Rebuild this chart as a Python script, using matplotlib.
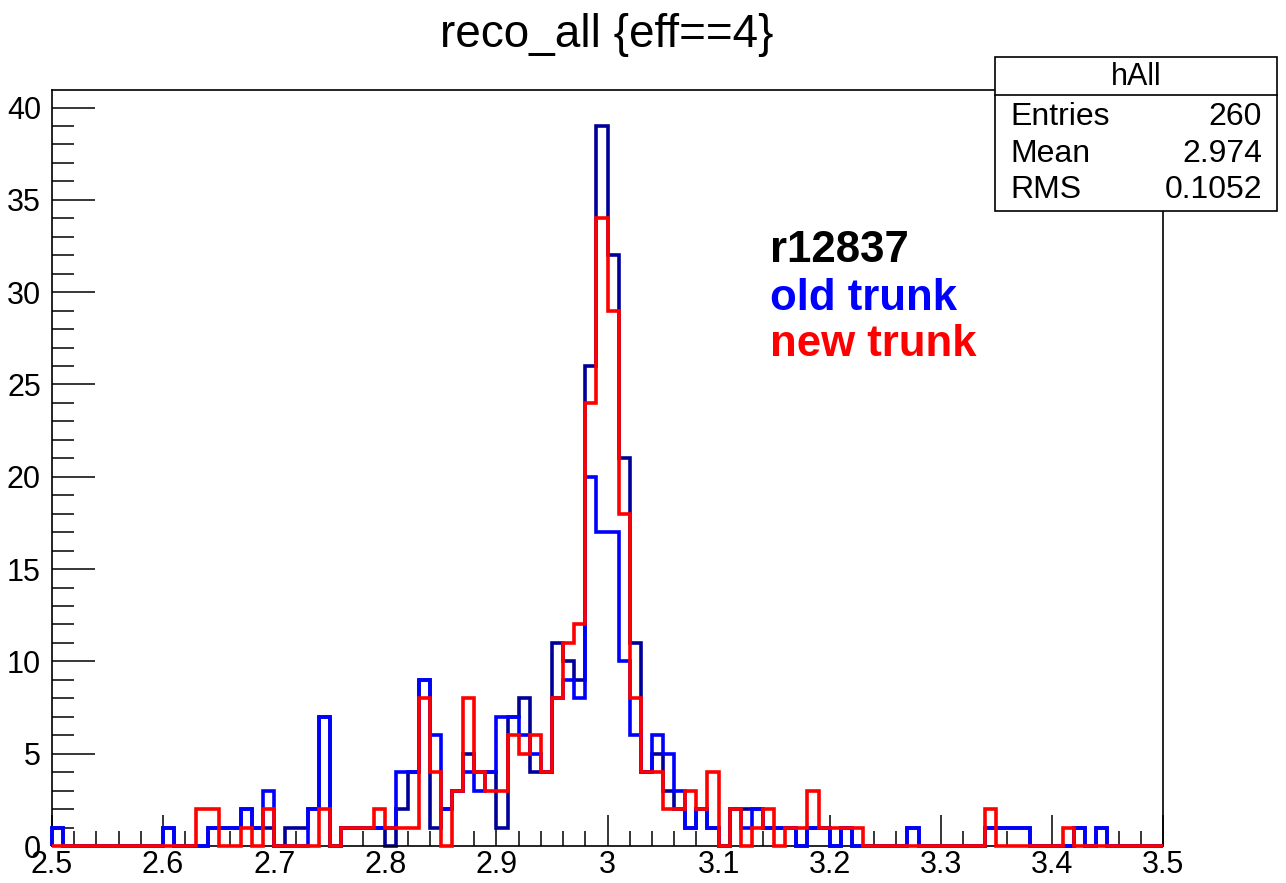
import numpy as np
import matplotlib
matplotlib.use("Agg")
import matplotlib.pyplot as plt
from matplotlib.patches import Rectangle
from matplotlib.ticker import MultipleLocator

plt.rcParams['font.family'] = ['Liberation Sans', 'DejaVu Sans']

# 100 bins from 2.5 to 3.5
edges = np.linspace(2.5, 3.5, 101)

old_trunk = [1, 0, 0, 0, 0, 0, 0, 0, 0, 0,
             1, 0, 0, 0, 1, 1, 1, 2, 1, 3,
             0, 0, 0, 2, 7, 0, 1, 1, 1, 1,
             1, 4, 4, 9, 6, 2, 3, 4, 3, 4,
             7, 7, 6, 5, 4, 8, 9, 8, 20, 17,
             17, 10, 6, 4, 6, 5, 3, 1, 2, 1,
             0, 2, 1, 2, 1, 1, 1, 0, 1, 1,
             0, 1, 0, 0, 0, 0, 0, 1, 0, 0,
             0, 0, 0, 0, 1, 1, 1, 1, 0, 0,
             0, 0, 1, 0, 1, 0, 0, 0, 0, 0]

new_trunk = [0, 0, 0, 0, 0, 0, 0, 0, 0, 0,
             0, 0, 0, 2, 2, 0, 0, 1, 0, 2,
             0, 0, 0, 0, 2, 0, 1, 1, 1, 2,
             1, 1, 1, 8, 4, 0, 3, 8, 4, 3,
             3, 6, 5, 6, 4, 8, 11, 12, 24, 34,
             29, 18, 8, 4, 4, 2, 2, 3, 2, 4,
             0, 2, 0, 1, 2, 0, 1, 1, 3, 1,
             1, 1, 1, 0, 0, 0, 0, 0, 0, 0,
             0, 0, 0, 0, 2, 0, 0, 0, 0, 0,
             0, 1, 0, 0, 0, 0, 0, 0, 0, 0]

h_all = [1, 0, 0, 0, 0, 0, 0, 0, 0, 0,
         1, 0, 0, 0, 1, 1, 1, 2, 1, 1,
         0, 1, 1, 2, 7, 0, 1, 1, 1, 1,
         0, 2, 4, 9, 1, 2, 3, 5, 4, 4,
         1, 7, 8, 4, 4, 11, 10, 9, 26, 39,
         32, 21, 11, 4, 5, 3, 2, 1, 2, 1,
         0, 2, 2, 2, 1, 1, 1, 0, 1, 1,
         0, 1, 0, 0, 0, 0, 0, 1, 0, 0,
         0, 0, 0, 0, 1, 1, 1, 1, 0, 0,
         0, 0, 1, 0, 1, 0, 0, 0, 0, 0]

stats_rows = [("Entries", "260"), ("Mean", "2.974"), ("RMS", "0.1052")]

W, H = 1286, 883
fig = plt.figure(figsize=(W / 100, H / 100), dpi=100)
ax = fig.add_axes([52 / W, 37 / H, 1111 / W, 756 / H])

lw = 2.6
ax.stairs(h_all, edges, color='#000099', lw=lw, clip_on=False, zorder=2)
ax.stairs(old_trunk, edges, color='#0000ff', lw=lw, clip_on=False, zorder=3)
ax.stairs(new_trunk, edges, color='#ff0000', lw=lw, clip_on=False, zorder=4)

ax.set_xlim(2.5, 3.5)
ax.set_ylim(0, 40.95)
ax.xaxis.set_major_locator(MultipleLocator(0.1))
ax.xaxis.set_minor_locator(MultipleLocator(0.02))
ax.yaxis.set_major_locator(MultipleLocator(5))
ax.yaxis.set_minor_locator(MultipleLocator(1))
ax.xaxis.set_major_formatter(plt.FuncFormatter(lambda v, p: '3' if abs(v - 3) < 1e-9 else '%.1f' % v))
ax.tick_params(axis='x', which='major', direction='in', length=22, width=1.1, labelsize=22, pad=3)
ax.tick_params(axis='x', which='minor', direction='in', length=11, width=1.1)
ax.tick_params(axis='y', which='major', direction='in', length=31, width=1.1, labelsize=22, pad=8)
ax.tick_params(axis='y', which='minor', direction='in', length=16, width=1.1)
for s in ax.spines.values():
    s.set_linewidth(1.2)

fig.text(607 / W, 1 - 35 / H, "reco_all {eff==4}", ha='center', va='center', fontsize=33)

# legend-like labels
fig.text(770 / W, 1 - 250 / H, "r12837", color='black', fontsize=31.5, fontweight='bold', va='center')
fig.text(770 / W, 1 - 298 / H, "old trunk", color='#0000ff', fontsize=31.5, fontweight='bold', va='center')
fig.text(770 / W, 1 - 345 / H, "new trunk", color='#ff0000', fontsize=31.5, fontweight='bold', va='center')

# stats box
bx0, bx1, by0, by1 = 995, 1277, 57, 211
fig.add_artist(Rectangle((bx0 / W, 1 - by1 / H), (bx1 - bx0) / W, (by1 - by0) / H,
                         transform=fig.transFigure, facecolor='white', edgecolor='black',
                         lw=1.2, zorder=5))
fig.add_artist(plt.Line2D([bx0 / W, bx1 / W], [1 - 95 / H, 1 - 95 / H],
                          transform=fig.transFigure, color='black', lw=1.2, zorder=6))
fig.text((bx0 + bx1) / 2 / W, 1 - 77 / H, "hAll", ha='center', va='center', fontsize=22, zorder=7)
for i, (name, val) in enumerate(stats_rows):
    yy = 1 - (117 + 36.5 * i) / H
    fig.text(1010 / W, yy, name, ha='left', va='center', fontsize=23, zorder=7)
    fig.text(1262 / W, yy, val, ha='right', va='center', fontsize=23, zorder=7)

fig.savefig("out.png", dpi=100, facecolor='white')
